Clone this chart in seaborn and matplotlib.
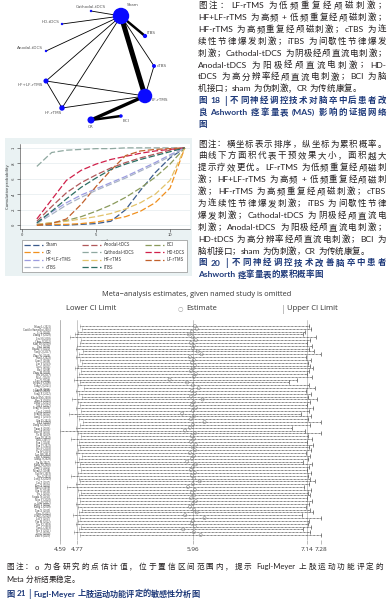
import re
import numpy as np
import pandas as pd
import matplotlib
matplotlib.use("Agg")
import matplotlib.pyplot as plt
from matplotlib.lines import Line2D
import seaborn as sns

W, H = 391, 605

# ---- network (fig 18) ----
node_names = ['Sham', 'Cathodal-tDCS', 'HD-tDCS', 'Anodal-tDCS', 'iTBS', 'cTBS',
              'HF+LF-rTMS', 'LF-rTMS', 'HF-rTMS', 'CR', 'BCI']
node_n = [850, 20, 20, 20, 58, 51, 83, 661, 95, 158, 39]
edges = [('Sham', 'Cathodal-tDCS', 1), ('Sham', 'HD-tDCS', 1), ('Sham', 'Anodal-tDCS', 1),
         ('Sham', 'HF+LF-rTMS', 1), ('Sham', 'HF-rTMS', 1), ('Sham', 'iTBS', 3),
         ('Sham', 'cTBS', 1), ('Sham', 'LF-rTMS', 6), ('cTBS', 'LF-rTMS', 1),
         ('HF+LF-rTMS', 'LF-rTMS', 1), ('HF+LF-rTMS', 'HF-rTMS', 1), ('HF-rTMS', 'LF-rTMS', 1),
         ('LF-rTMS', 'CR', 4), ('CR', 'BCI', 3)]
# layout of the network drawing
layout_x = [121, 91, 62, 46, 145, 154, 46, 145, 62, 91, 121]
layout_y = [16, 11, 24, 51, 36, 66, 81, 96, 108, 120, 116]

# ---- cumulative ranking (fig 20) ----
ranks = list(range(1, 12))
cum_sham = [0.00, 0.00, 0.00, 0.01, 0.02, 0.05, 0.20, 0.45, 0.68, 0.87, 1.00]
cum_anodal = [0.05, 0.24, 0.42, 0.55, 0.65, 0.74, 0.81, 0.87, 0.92, 0.97, 1.00]
cum_bci = [0.01, 0.03, 0.06, 0.11, 0.18, 0.26, 0.36, 0.48, 0.62, 0.79, 1.00]
cum_cr = [0.00, 0.01, 0.01, 0.02, 0.04, 0.07, 0.11, 0.18, 0.29, 0.48, 1.00]
cum_cathodal = [0.76, 0.94, 0.97, 0.98, 0.99, 0.99, 1.00, 1.00, 1.00, 1.00, 1.00]
cum_hd = [0.08, 0.33, 0.58, 0.71, 0.79, 0.85, 0.89, 0.93, 0.96, 0.98, 1.00]
cum_hflf = [0.03, 0.17, 0.29, 0.39, 0.47, 0.55, 0.63, 0.72, 0.81, 0.91, 1.00]
cum_hf = [0.01, 0.03, 0.05, 0.08, 0.11, 0.15, 0.21, 0.29, 0.40, 0.58, 1.00]
cum_lf = [0.00, 0.02, 0.08, 0.27, 0.50, 0.71, 0.90, 0.96, 0.98, 0.99, 1.00]
cum_ctbs = [0.02, 0.14, 0.26, 0.36, 0.45, 0.53, 0.61, 0.70, 0.79, 0.89, 1.00]
cum_itbs = [0.03, 0.18, 0.34, 0.49, 0.61, 0.72, 0.79, 0.85, 0.90, 0.95, 1.00]
treatments = ['Sham', 'Anodal-tDCS', 'BCI', 'CR', 'Cathodal-tDCS', 'HD-tDCS',
              'HF+LF-rTMS', 'HF-rTMS', 'LF-rTMS', 'cTBS', 'iTBS']
cum_values = [cum_sham, cum_anodal, cum_bci, cum_cr, cum_cathodal, cum_hd,
              cum_hflf, cum_hf, cum_lf, cum_ctbs, cum_itbs]
line_colors = ['#3b5b8c', '#b0585a', '#8a9a5b', '#f0901e', '#8fa8a0', '#d0204a',
               '#9b9be0', '#e2c36b', '#c1602b', '#a9b3c6', '#2c6e62']

# ---- sensitivity analysis (fig 21) ----
studies = [
    "Wang L (2021)", "Castillo-Saavedra (2016)", "Li X (2019)", "Zhang Y (2020)", "Liu H (2018)",
    "Chen J (2022)", "Kim YH (2010)", "Du J (2019)", "Huang Y (2021)", "Yang Q (2017)",
    "Zhao W (2020)", "Sun L (2022)", "Guo F (2016)", "Lin Y (2019)", "Xu G (2021)",
    "Hu J (2018)", "Zhou M (2020)", "Wu D (2017)", "Ma L (2023)", "Luo Y (2019)",
    "Fregni F (2006)", "Tang Q (2021)", "Gao H (2018)", "Liang Z (2020)", "Song X (2022)",
    "Khedr EM (2009)", "Han X (2019)", "Deng C (2021)", "Xie Y (2017)", "Feng W (2020)",
    "Cao L (2018)", "Peng H (2022)", "Jiang T (2019)", "Qin Y (2021)", "Lu Y (2016)",
    "Dong X (2020)", "Yuan S (2018)", "Hsu SP (2023)", "Ye M (2019)", "Tian D (2021)",
    "Shi L (2017)", "Fan J (2020)", "Pan Y (2022)", "Wei F (2018)", "Yu W (2019)",
    "Lee JH (2014)", "Bai Y (2021)", "Xiong J (2020)", "Jin H (2017)", "Kang N (2016)",
    "Ding Y (2022)", "Meng Z (2018)", "Yao W (2019)", "Nie J (2021)", "Long X (2020)",
    "Cai Z (2017)", "Ren X (2023)", "Hao Z (2018)", "Qiu X (2019)", "Fu L (2021)",
    "Sasaki N (2013)", "Mao Y (2020)", "Gu P (2017)", "Shen Y (2022)", "Kong L (2018)",
    "Tan X (2019)", "Hou J (2021)", "Zeng Q (2020)", "Lai Y (2017)", "Yin M (2022)",
    "Xia X (2018)", "Yan L (2019)", "Mo Y (2021)", "Ou Q (2020)", "Zhu Y (2023)",
]
ci_lower = [
    4.80, 4.82, 4.78, 4.74, 4.69, 4.81, 4.80, 4.77, 4.75, 4.83,
    4.79, 4.76, 4.80, 4.82, 4.78, 4.74, 4.81, 4.79, 4.77, 4.73,
    4.80, 4.78, 4.84, 4.76, 4.79, 4.82, 4.71, 4.78, 4.80, 4.75,
    4.81, 4.68, 4.77, 4.79, 4.83, 4.80, 4.76, 4.59, 4.78, 4.81,
    4.70, 4.79, 4.77, 4.80, 4.78, 4.76, 4.82, 4.79, 4.74, 4.80,
    4.77, 4.81, 4.78, 4.70, 4.79, 4.80, 4.76, 4.66, 4.78, 4.81,
    4.79, 4.77, 4.80, 4.75, 4.78, 4.82, 4.79, 4.72, 4.80, 4.78,
    4.76, 4.81, 4.79, 4.73, 4.80]
estimate = [
    5.98, 6.00, 5.95, 5.92, 5.96, 5.99, 5.94, 5.97, 5.96, 6.01,
    6.05, 5.93, 5.97, 5.95, 5.98, 5.96, 5.94, 5.99, 5.97, 5.72,
    5.90, 5.96, 6.02, 5.95, 5.98, 5.94, 6.06, 5.97, 5.95, 5.99,
    5.96, 5.85, 5.97, 5.94, 6.08, 5.96, 5.93, 5.88, 5.98, 5.95,
    5.97, 5.94, 5.99, 5.96, 5.98, 5.93, 5.97, 5.95, 5.90, 5.99,
    5.96, 5.94, 5.98, 5.95, 5.97, 6.03, 5.96, 5.91, 5.98, 5.95,
    5.97, 5.94, 5.99, 5.96, 5.93, 5.97, 6.00, 5.88, 6.08, 5.96,
    5.95, 5.98, 5.86, 5.97, 6.04]
ci_upper = [
    7.16, 7.18, 7.12, 7.10, 7.23, 7.17, 7.14, 7.19, 7.16, 7.21,
    7.28, 7.13, 7.18, 7.15, 7.17, 7.20, 7.16, 7.14, 7.19, 7.03,
    6.95, 7.16, 7.22, 7.13, 7.18, 7.15, 7.24, 7.17, 7.14, 7.20,
    7.16, 7.07, 7.18, 7.15, 7.28, 7.17, 6.98, 7.12, 7.28, 7.15,
    7.19, 7.14, 7.20, 7.16, 7.18, 7.13, 7.17, 7.15, 7.10, 7.19,
    7.16, 7.14, 7.18, 7.15, 7.17, 7.22, 7.16, 7.11, 7.18, 7.15,
    7.17, 7.14, 7.19, 7.16, 7.13, 7.17, 7.20, 7.08, 7.28, 7.16,
    7.15, 7.18, 7.09, 7.17, 7.28]
x_ticks = [4.59, 4.77, 5.96, 7.14, 7.28]

# ---- captions ----
cap18 = [
    "图注：LF-rTMS 为低频重复经颅磁刺激；",
    "HF+LF-rTMS 为高频 + 低频重复经颅磁刺激；",
    "HF-rTMS 为高频重复经颅磁刺激；cTBS 为连",
    "续性节律爆发刺激；iTBS 为间歇性节律爆发",
    "刺激；Cathodal-tDCS 为阴极经颅直流电刺激；",
    "Anodal-tDCS 为阳极经颅直流电刺激；HD-",
    "tDCS 为高分辨率经颅直流电刺激；BCI 为脑",
    "机接口；sham 为伪刺激，CR 为传统康复。",
]
title18 = ["图 18 | 不同神经调控技术对脑卒中后患者改",
           "良 Ashworth 痉挛量表 (MAS) 影响的证据网络", "图"]
cap20 = [
    "图注：横坐标表示排序，纵坐标为累积概率。",
    "曲线下方面积代表干预效果大小，面积越大",
    "提示疗效更优。LF-rTMS 为低频重复经颅磁刺",
    "激；HF+LF-rTMS 为高频 + 低频重复经颅磁刺",
    "激；HF-rTMS 为高频重复经颅磁刺激；cTBS",
    "为连续性节律爆发刺激；iTBS 为间歇性节律",
    "爆发刺激；Cathodal-tDCS 为阴极经颅直流电",
    "刺激；Anodal-tDCS 为阳极经颅直流电刺激；",
    "HD-tDCS 为高分辨率经颅直流电刺激；BCI 为",
    "脑机接口；sham 为伪刺激，CR 为传统康复。",
]
title20 = ["图 20 | 不同神经调控技术改善脑卒中患者", "Ashworth 痉挛量表的累积概率图"]
cap21 = ["图注：o 为各研究的点估计值，位于置信区间范围内，提示 Fugl-Meyer 上肢运动功能评定的",
         "Meta 分析结果稳定。"]
title21 = "图 21 | Fugl-Meyer 上肢运动功能评定的敏感性分析图"

sns.set_theme(style="white")
plt.rcParams['font.family'] = ['Noto Sans CJK SC', 'DejaVu Sans']

fig = plt.figure(figsize=(W / 100, H / 100), dpi=100)
renderer = fig.canvas.get_renderer()


def box(x0, y0, x1, y1):
    return [x0 / W, 1 - y1 / H, (x1 - x0) / W, (y1 - y0) / H]


LATIN = re.compile(r'[A-Za-z0-9\+\-\.\(\)]+')


def put_line(x0, y, s, size, color, weight='normal', x1=None):
    # place token by token; latin words in a narrower face, justified when x1 is given
    items, widths, spaced = [], [], []
    for m in re.finditer(r'[A-Za-z0-9\+\-\.\(\)]+|[^\sA-Za-z0-9]', s):
        tok = m.group()
        fam = ['Lato', 'DejaVu Sans'] if LATIN.fullmatch(tok) else ['Noto Sans CJK SC', 'DejaVu Sans']
        t = fig.text(0, 0, tok, fontsize=size, color=color, fontweight=weight,
                     family=fam, va='center', ha='left')
        items.append(t)
        widths.append(t.get_window_extent(renderer).width)
        spaced.append(m.start() > 0 and s[m.start() - 1] == ' ')
    space_w = size * 100 / 72 * 0.28
    natural = sum(widths) + space_w * sum(spaced)
    extra = 0.0
    if x1 is not None and len(items) > 1:
        extra = (x1 - x0 - natural) / (len(items) - 1)
    x = x0
    for i, (t, w) in enumerate(zip(items, widths)):
        if i > 0:
            x += extra + (space_w if spaced[i] else 0)
        t.set_position((x / W, 1 - y / H))
        x += w


# ================= network =================
ax_net = fig.add_axes(box(0, 0, 195, 135))
nodes = pd.DataFrame({'name': node_names, 'x': layout_x, 'y': layout_y, 'n': node_n})
pos = {r.name: (r.x, r.y) for r in nodes.itertuples()}
for a, b, k in edges:
    ax_net.plot([pos[a][0], pos[b][0]], [pos[a][1], pos[b][1]], color='black',
                lw=0.6 * k, zorder=1, solid_capstyle='butt')
sns.scatterplot(data=nodes, x='x', y='y', size='n', sizes=(3, 140), size_norm=(20, 850),
                color='#0a0aff', edgecolor='none', legend=False, zorder=3, ax=ax_net)
label_off = {'Sham': (6, -11, 'left'), 'Cathodal-tDCS': (0, -4, 'center'),
             'HD-tDCS': (-2, -2, 'right'), 'Anodal-tDCS': (-3, -3, 'right'),
             'iTBS': (2, -3, 'left'), 'cTBS': (3, 0, 'left'),
             'HF+LF-rTMS': (-3, 4, 'right'), 'LF-rTMS': (7, 4, 'left'),
             'HF-rTMS': (0, 5, 'right'), 'CR': (0, 7, 'center'), 'BCI': (2, 5, 'left')}
for name in node_names:
    dx, dy, ha = label_off[name]
    ax_net.text(pos[name][0] + dx, pos[name][1] + dy, name, fontsize=3, color='#555555',
                ha=ha, va='center', family='DejaVu Sans')
ax_net.set_xlim(0, 195)
ax_net.set_ylim(135, 0)
ax_net.axis('off')

# ================= cumulative ranking =================
ax_bg = fig.add_axes(box(5, 138, 192, 276))
ax_bg.set_facecolor('#eaf2f3')
ax_bg.set_xticks([])
ax_bg.set_yticks([])
for sp in ax_bg.spines.values():
    sp.set_visible(False)

ax_c = fig.add_axes(box(20, 144, 190, 229))
ax_c.set_facecolor('white')
cum_df = pd.DataFrame([
    {'treatment': t, 'rank': r, 'prob': p}
    for t, vals in zip(treatments, cum_values) for r, p in zip(ranks, vals)
])
palette = dict(zip(treatments, line_colors))
for yt in [0, 0.2, 0.4, 0.6, 0.8, 1.0]:
    ax_c.axhline(yt, color='#e4ecee', lw=0.5, zorder=0)
sns.lineplot(data=cum_df, x='rank', y='prob', hue='treatment', hue_order=treatments,
             palette=palette, lw=0.9, linestyle=(0, (5, 2)), legend=False, ax=ax_c)
ax_c.set_xlim(-0.14, 11.35)
ax_c.set_ylim(-0.05, 1.05)
ax_c.set_xticks([0, 5, 10])
ax_c.set_yticks([0, 0.2, 0.4, 0.6, 0.8, 1.0])
ax_c.set_yticklabels(['0', '.2', '.4', '.6', '.8', '1'], rotation=90, va='center')
ax_c.tick_params(labelsize=3, length=2, width=0.4, pad=1, colors='#333333',
                 bottom=True, left=True)
ax_c.set_xlabel('rank', fontsize=3, labelpad=1, color='#333333')
ax_c.set_ylabel('Cumulative probability', fontsize=3, labelpad=1.5, color='#333333')
for side in ['top', 'right']:
    ax_c.spines[side].set_visible(False)
for side in ['left', 'bottom']:
    ax_c.spines[side].set_color('#333333')
    ax_c.spines[side].set_linewidth(0.4)

handles = {t: Line2D([], [], color=c, lw=0.9, linestyle=(0, (5, 2)))
           for t, c in zip(treatments, line_colors)}
leg_order = ['Sham', 'CR', 'HF+LF-rTMS', 'cTBS', 'Anodal-tDCS', 'Cathodal-tDCS',
             'HF-rTMS', 'iTBS', 'BCI', 'HD-tDCS', 'LF-rTMS']
leg = fig.legend([handles[t] for t in leg_order], leg_order, ncol=3, mode='expand',
                 loc='lower left', bbox_to_anchor=(22 / W, 1 - 272 / H, 165 / W, 29 / H),
                 fontsize=3.2, handlelength=4.3, handletextpad=0.5, labelspacing=0.55,
                 borderaxespad=0, borderpad=0.5, frameon=True, fancybox=False,
                 edgecolor='#777777', framealpha=1)
leg.get_frame().set_linewidth(0.4)
for txt in leg.get_texts():
    txt.set_color('#333333')

# ================= sensitivity analysis =================
ax_s = fig.add_axes(box(60, 320, 340, 540))
rows = np.arange(len(studies))
ax_s.hlines(rows, ci_lower, ci_upper, colors='#3a3a3a', lw=0.55, linestyles=(0, (1, 0.8)))
sns.scatterplot(x=ci_upper, y=rows, marker='|', s=6, color='#555555', linewidth=0.5,
                legend=False, ax=ax_s)
sns.scatterplot(x=ci_lower, y=rows, marker='|', s=6, color='#aaaaaa', linewidth=0.4,
                legend=False, ax=ax_s)
sns.scatterplot(x=estimate, y=rows, marker='o', s=5, facecolor='none', edgecolor='#8a8a8a',
                linewidth=0.4, legend=False, ax=ax_s, zorder=3)
for v in [4.77, 5.96, 7.14]:
    ax_s.axvline(v, color='#b0b0b0', lw=0.5, zorder=0)
ax_s.set_xlim(4.59, 4.59 + 280 / 97)
ax_s.set_ylim(len(studies) - 1 + 5 / 2.824, -6 / 2.824)
ax_s.set_yticks(rows)
ax_s.set_yticklabels(studies, fontsize=2, family='Liberation Serif', color='#333333')
ax_s.set_xticks(x_ticks)
ax_s.set_xticklabels([f'{v:.2f}' for v in x_ticks], fontsize=4.6, family='Open Sans',
                     color='#333333')
ax_s.tick_params(axis='y', length=0, pad=7)
ax_s.tick_params(axis='x', length=3, width=0.4, color='#888888', pad=2, bottom=True)
for side in ['top', 'right', 'bottom']:
    ax_s.spines[side].set_visible(False)
ax_s.spines['left'].set_color('#999999')
ax_s.spines['left'].set_linewidth(0.5)

fig.text(197 / W, 1 - 294 / H, 'Meta\u2212analysis estimates, given named study is omitted',
         fontsize=5.3, family='Open Sans', color='#333333', ha='center', va='center')
fig.text(66 / W, 1 - 309 / H, 'Lower CI Limit', fontsize=5.5, family='Open Sans',
         color='#333333', ha='left', va='center')
fig.text(180 / W, 1 - 309 / H, '\u25cb', fontsize=4.5, family='DejaVu Sans',
         color='#999999', ha='center', va='center')
fig.text(186 / W, 1 - 309 / H, 'Estimate', fontsize=5.5, family='Open Sans',
         color='#333333', ha='left', va='center')
fig.text(283 / W, 1 - 309 / H, '|', fontsize=5.5, family='DejaVu Sans',
         color='#999999', ha='center', va='center')
fig.text(287 / W, 1 - 309 / H, 'Upper CI Limit', fontsize=5.5, family='Open Sans',
         color='#333333', ha='left', va='center')

# ================= captions =================
note_c = '#231f20'
title_c = '#1f3a7a'
x_left, x_right = 198, 386
cap_size = 6.1
for i, s in enumerate(cap18):
    put_line(x_left, 5.5 + 11.9 * i, s, cap_size, note_c, x1=x_right if i < 7 else None)
for j, s in enumerate(title18):
    put_line(x_left, 5.5 + 11.9 * (8 + j), s, cap_size, title_c, 'bold',
             x1=x_right if j < 2 else None)
for i, s in enumerate(cap20):
    put_line(x_left, 144 + 11.9 * i, s, cap_size, note_c, x1=x_right if i < 9 else None)
for j, s in enumerate(title20):
    put_line(x_left, 144 + 11.9 * (10 + j), s, cap_size, title_c, 'bold',
             x1=x_right if j < 1 else None)
put_line(6, 567, cap21[0], 5.5, note_c, x1=383)
put_line(6, 580, cap21[1], 5.5, note_c)
put_line(6, 594, title21, 5.9, title_c, 'bold')

fig.savefig('out.png', dpi=100, facecolor='white')
